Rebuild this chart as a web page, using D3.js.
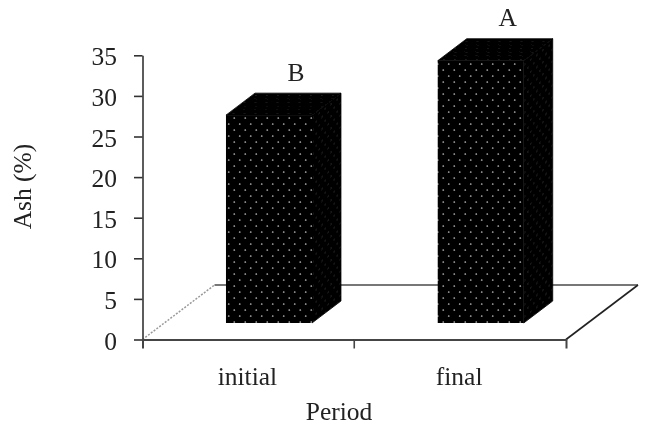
<!DOCTYPE html>
<html><head><meta charset="utf-8">
<script src="https://cdn.jsdelivr.net/npm/d3@7"></script>
<style>html,body{margin:0;background:#fff}svg{display:block}text{font-family:"Liberation Serif",serif;fill:#222}</style>
</head><body><svg id="c" width="645" height="426"></svg>
<script>
const categories = ["initial", "final"];
const ashValues = [25.6, 32.3];
const letters = ["B", "A"];
const yTicks = [0, 5, 10, 15, 20, 25, 30, 35];
const axisTitleX = "Period";
const axisTitleY = "Ash (%)";

const svgRoot = d3.select("#c");
const fs = 25.5;
const y = d3.scaleLinear().domain([0, 35]).range([339.5, 55.3]);
const x = d3.scaleBand().domain(categories).range([142.5, 566]);
const depth = {dx: 72, dy: -54.5};
const barDepth = {dx: 29, dy: -22};
const frontOffset = {dx: 20.6, dy: -16.5};
const barWidth = 86;

const defs = svgRoot.append("defs");
defs.append("filter").attr("id", "soft").attr("x", 0).attr("y", 0).attr("width", 1).attr("height", 1)
  .attr("filterUnits", "objectBoundingBox")
  .append("feGaussianBlur").attr("stdDeviation", 0.45);
function pattern(id, transform, dotColor, r) {
  const p = defs.append("pattern").attr("id", id).attr("patternUnits", "userSpaceOnUse")
    .attr("width", 11).attr("height", 12).attr("patternTransform", transform);
  p.append("rect").attr("width", 11).attr("height", 12).attr("fill", "#030303");
  [[2.75, 3], [8.25, 9]].forEach(d => p.append("circle").attr("cx", d[0]).attr("cy", d[1]).attr("r", r).attr("fill", dotColor));
}
pattern("pf", "translate(226,1)", "#b8b8b8", 0.85);
pattern("ps", "matrix(0.55,-0.42,0,1,0,0)", "#444", 0.7);
pattern("pt", "matrix(1,0,0.9,0.6,0,0)", "#303030", 0.6);

const svg = svgRoot.append("g").attr("filter", "url(#soft)");
svg.append("rect").attr("width", 645).attr("height", 426).attr("fill", "#fff");

// floor
const floorBack = y(0) + depth.dy;
const x0 = x.range()[0], x1 = x.range()[1];
svg.append("line").attr("x1", x0 + depth.dx).attr("x2", x1 + depth.dx).attr("y1", floorBack).attr("y2", floorBack)
  .attr("stroke", "#777").attr("stroke-width", 2);
svg.append("line").attr("x1", x0).attr("y1", y(0)).attr("x2", x0 + depth.dx).attr("y2", floorBack)
  .attr("stroke", "#999").attr("stroke-width", 1.5).attr("stroke-dasharray", "2 1.5");
svg.append("line").attr("x1", x1).attr("y1", y(0)).attr("x2", x1 + depth.dx).attr("y2", floorBack)
  .attr("stroke", "#222").attr("stroke-width", 1.6);

// bars
const bars = svg.selectAll("g.bar").data(categories.map((c, i) => ({c, v: ashValues[i], l: letters[i]}))).join("g").attr("class", "bar");
const barLeft = d => x(d.c) + x.bandwidth() / 2 - barWidth / 2 + frontOffset.dx;
const base = y(0) + frontOffset.dy;
const barTop = d => base - (y(0) - y(d.v));
const pts = a => a.map(p => p.join(",")).join(" ");
bars.append("polygon").attr("fill", "url(#ps)").attr("stroke", "#030303").attr("stroke-width", 0.8).attr("points", d => pts([
  [barLeft(d) + barWidth, barTop(d)], [barLeft(d) + barWidth + barDepth.dx, barTop(d) + barDepth.dy],
  [barLeft(d) + barWidth + barDepth.dx, base + barDepth.dy], [barLeft(d) + barWidth, base]]));
bars.append("polygon").attr("fill", "url(#pt)").attr("stroke", "#030303").attr("stroke-width", 0.8).attr("points", d => pts([
  [barLeft(d), barTop(d)], [barLeft(d) + barDepth.dx, barTop(d) + barDepth.dy],
  [barLeft(d) + barWidth + barDepth.dx, barTop(d) + barDepth.dy], [barLeft(d) + barWidth, barTop(d)]]));
bars.append("rect").attr("fill", "url(#pf)").attr("x", barLeft).attr("y", barTop).attr("width", barWidth).attr("height", d => base - barTop(d));
bars.append("text").attr("x", d => barLeft(d) + barWidth / 2 + 27).attr("y", d => barTop(d) + barDepth.dy - 12.5)
  .attr("text-anchor", "middle").attr("font-size", fs).text(d => d.l);

// axes
const yAxis = svg.append("g").attr("transform", `translate(${x0},0)`)
  .call(d3.axisLeft(y).tickValues(yTicks).tickSize(8.5).tickPadding(17).tickSizeOuter(0));
yAxis.selectAll("text").attr("font-size", fs).style("font-family", '"Liberation Serif",serif').attr("fill", "#222").attr("dy", 9.5);
yAxis.selectAll("line,path").attr("stroke", "#333").attr("stroke-width", 1.6);

const xAxis = svg.append("g").attr("transform", `translate(0,${y(0)})`)
  .call(d3.axisBottom(x).tickSize(0).tickPadding(27).tickSizeOuter(9));
xAxis.selectAll("text").attr("font-size", fs).style("font-family", '"Liberation Serif",serif').attr("fill", "#222").attr("dx", -1);
xAxis.selectAll("path").attr("stroke", "#444").attr("stroke-width", 2);
xAxis.append("line").attr("x1", (x0 + x1) / 2).attr("x2", (x0 + x1) / 2).attr("y1", 0).attr("y2", 9).attr("stroke", "#444").attr("stroke-width", 1.6);

svg.append("text").attr("x", 339).attr("y", 420).attr("text-anchor", "middle").attr("font-size", fs).text(axisTitleX);
svg.append("text").attr("transform", "translate(31,186.5) rotate(-90)").attr("text-anchor", "middle").attr("font-size", fs).text(axisTitleY);
</script></body></html>
